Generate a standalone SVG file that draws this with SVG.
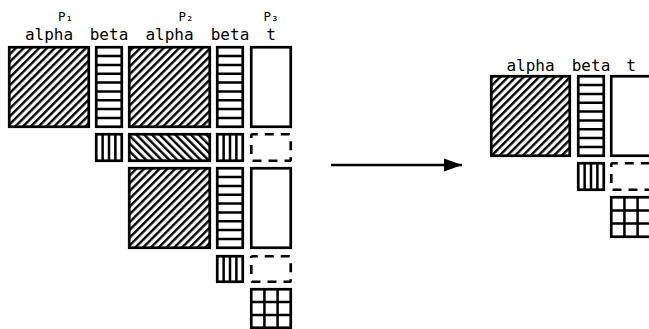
<svg xmlns="http://www.w3.org/2000/svg" width="649" height="329" viewBox="0 0 649 329">
  <defs>
    <pattern id="fwd" patternUnits="userSpaceOnUse" width="5.5" height="10" patternTransform="rotate(45)">
      <rect x="0" y="0" width="2.4" height="10" fill="#000"/>
    </pattern>
    <pattern id="back" patternUnits="userSpaceOnUse" width="5.5" height="10" patternTransform="rotate(-45)">
      <rect x="0" y="0" width="2.4" height="10" fill="#000"/>
    </pattern>
    <marker id="arrow" markerUnits="userSpaceOnUse" markerWidth="18" markerHeight="14" refX="18" refY="7" orient="auto">
      <path d="M0,0.5 L18,7 L0,13.5 z" fill="#000"/>
    </marker>
  </defs>
  <style>
    .box { fill: #fff; stroke: #000; stroke-width: 2.7; }
    .fwd { fill: url(#fwd); stroke: #000; stroke-width: 2.7; }
    .back { fill: url(#back); stroke: #000; stroke-width: 2.7; }
    .dash { fill: none; stroke: #000; stroke-width: 2.7; stroke-dasharray: 9 7; stroke-dashoffset: 4; }
    .ln { stroke: #000; stroke-width: 2.5; fill: none; }
    .lbl { font-family: "DejaVu Sans Mono", monospace; font-size: 16px; fill: #000; text-anchor: middle; }
    .proc { font-family: "DejaVu Sans Mono", monospace; font-size: 12.5px; fill: #000; text-anchor: middle; }
    .conn { stroke: #000; stroke-width: 2.5; fill: none; }
  </style>

  <g id="labels-left">
    <text class="proc" x="65.5" y="21">P₁</text>
    <text class="proc" x="186" y="21">P₂</text>
    <text class="proc" x="271" y="21">P₃</text>
    <text class="lbl" x="49" y="40">alpha</text>
    <text class="lbl" x="109" y="40">beta</text>
    <text class="lbl" x="169.5" y="40">alpha</text>
    <text class="lbl" x="230" y="40">beta</text>
    <text class="lbl" x="271" y="40">t</text>
  </g>

  <!-- Left row 1 -->
  <g id="alpha1">
    <rect class="fwd" x="9.25" y="47.25" width="79.5" height="79.5"/>
  </g>
  <g id="beta1">
    <rect class="box" x="96.25" y="47.25" width="25.5" height="79.5"/>
    <path class="ln" d="M96.25,56.08H121.75M96.25,64.92H121.75M96.25,73.75H121.75M96.25,82.58H121.75M96.25,91.42H121.75M96.25,100.25H121.75M96.25,109.08H121.75M96.25,117.92H121.75"/>
  </g>
  <g id="alpha2">
    <rect class="fwd" x="129.25" y="47.25" width="80.5" height="79.5"/>
  </g>
  <g id="beta2">
    <rect class="box" x="217.25" y="47.25" width="25.5" height="79.5"/>
    <path class="ln" d="M217.25,56.08H242.75M217.25,64.92H242.75M217.25,73.75H242.75M217.25,82.58H242.75M217.25,91.42H242.75M217.25,100.25H242.75M217.25,109.08H242.75M217.25,117.92H242.75"/>
  </g>
  <g id="t1">
    <rect class="box" x="251.25" y="47.25" width="39.5" height="79.5"/>
  </g>

  <!-- Left row 2 -->
  <g id="beta1-small">
    <rect class="box" x="96.25" y="134.25" width="25.5" height="26.5"/>
    <path class="ln" d="M102.63,134.25V160.75M109,134.25V160.75M115.38,134.25V160.75"/>
  </g>
  <g id="alpha2-small">
    <rect class="back" x="129.25" y="134.25" width="80.5" height="26.5"/>
  </g>
  <g id="beta2-small">
    <rect class="box" x="217.25" y="134.25" width="25.5" height="26.5"/>
    <path class="ln" d="M223.63,134.25V160.75M230,134.25V160.75M236.38,134.25V160.75"/>
  </g>
  <g id="t1-small">
    <rect class="dash" x="251.25" y="134.25" width="39.5" height="26.5" rx="1.5"/>
  </g>

  <!-- Left row 3 -->
  <g id="alpha3">
    <rect class="fwd" x="129.25" y="168.25" width="80.5" height="79.5"/>
  </g>
  <g id="beta3">
    <rect class="box" x="217.25" y="168.25" width="25.5" height="79.5"/>
    <path class="ln" d="M217.25,177.08H242.75M217.25,185.92H242.75M217.25,194.75H242.75M217.25,203.58H242.75M217.25,212.42H242.75M217.25,221.25H242.75M217.25,230.08H242.75M217.25,238.92H242.75"/>
  </g>
  <g id="t3">
    <rect class="box" x="251.25" y="168.25" width="39.5" height="79.5"/>
  </g>

  <!-- Left row 4 -->
  <g id="beta3-small">
    <rect class="box" x="217.25" y="256.25" width="25.5" height="25.5"/>
    <path class="ln" d="M223.63,256.25V281.75M230,256.25V281.75M236.38,256.25V281.75"/>
  </g>
  <g id="t3-small">
    <rect class="dash" x="251.25" y="256.25" width="39.5" height="25.5" rx="1.5"/>
  </g>

  <!-- Left row 5 -->
  <g id="grid-left">
    <rect class="box" x="251.25" y="289.25" width="39.5" height="38.5"/>
    <path class="ln" d="M264.42,289.25V327.75M277.58,289.25V327.75M251.25,302.08H290.75M251.25,314.92H290.75"/>
  </g>

  <!-- Connector -->
  <g id="connectors">
    <line class="conn" x1="331" y1="165" x2="462" y2="165" marker-end="url(#arrow)"/>
  </g>

  <!-- Right side -->
  <g id="labels-right">
    <text class="lbl" x="530.5" y="71">alpha</text>
    <text class="lbl" x="591" y="71">beta</text>
    <text class="lbl" x="631" y="71">t</text>
  </g>
  <g id="alpha-r">
    <rect class="fwd" x="491.25" y="76.25" width="78.5" height="79.5"/>
  </g>
  <g id="beta-r">
    <rect class="box" x="578.25" y="76.25" width="25.5" height="79.5"/>
    <path class="ln" d="M578.25,85.08H603.75M578.25,93.92H603.75M578.25,102.75H603.75M578.25,111.58H603.75M578.25,120.42H603.75M578.25,129.25H603.75M578.25,138.08H603.75M578.25,146.92H603.75"/>
  </g>
  <g id="t-r">
    <rect class="box" x="611.25" y="76.25" width="39.5" height="79.5"/>
  </g>
  <g id="beta-r-small">
    <rect class="box" x="578.25" y="163.25" width="25.5" height="26.5"/>
    <path class="ln" d="M584.63,163.25V189.75M591,163.25V189.75M597.38,163.25V189.75"/>
  </g>
  <g id="t-r-small">
    <rect class="dash" x="611.25" y="163.25" width="39.5" height="26.5" rx="1.5"/>
  </g>
  <g id="grid-right">
    <rect class="box" x="611.25" y="197.25" width="39.5" height="39.5"/>
    <path class="ln" d="M624.42,197.25V236.75M637.58,197.25V236.75M611.25,210.42H650.75M611.25,223.58H650.75"/>
  </g>
</svg>
